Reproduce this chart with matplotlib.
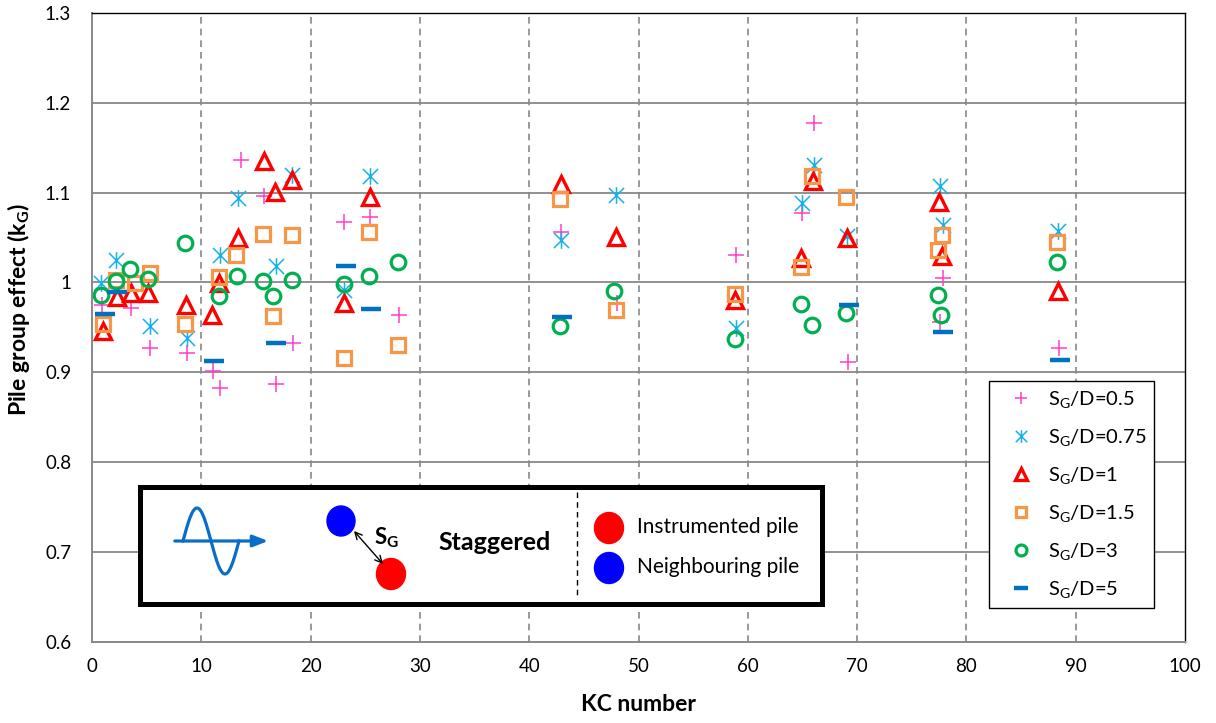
import numpy as np
import matplotlib
matplotlib.use("Agg")
import matplotlib.pyplot as plt
from matplotlib.path import Path
from matplotlib.patches import Ellipse

plt.rcParams['font.family'] = ['Lato', 'DejaVu Sans']
plt.rcParams['mathtext.fontset'] = 'custom'
plt.rcParams['mathtext.rm'] = 'Lato'
plt.rcParams['mathtext.it'] = 'Lato:italic'
plt.rcParams['mathtext.bf'] = 'Lato:bold'

# ---------------- data ----------------
kc_05 = [0.9, 3.6, 5.3, 8.7, 11.1, 11.7, 13.6, 15.7, 16.8, 18.4, 23.1, 25.4, 28.1,
         42.9, 48.0, 58.9, 65.0, 66.1, 69.2, 77.9, 77.6, 88.5]
kg_05 = [0.975, 0.971, 0.927, 0.921, 0.901, 0.882, 1.136, 1.096, 0.887, 0.933, 1.067, 1.073, 0.964,
         1.056, 0.977, 1.031, 1.077, 1.178, 0.911, 1.005, 0.956, 0.927]

kc_075 = [0.85, 2.2, 5.3, 8.7, 11.7, 13.4, 16.8, 18.3, 23.1, 25.4, 42.9, 47.9, 58.9,
          65.0, 66.1, 69.1, 77.6, 77.9, 88.4]
kg_075 = [0.999, 1.025, 0.951, 0.938, 1.030, 1.094, 1.018, 1.120, 0.992, 1.118, 1.047, 1.097, 0.949,
          1.088, 1.131, 1.052, 1.107, 1.064, 1.057]

kc_1 = [1.0, 2.3, 3.6, 5.1, 8.6, 10.95, 11.6, 13.4, 15.7, 16.7, 18.3, 23.1, 25.4,
        42.9, 47.9, 58.8, 64.9, 66.0, 69.1, 77.5, 77.8, 88.4]
kg_1 = [0.946, 0.984, 0.988, 0.988, 0.975, 0.964, 0.999, 1.049, 1.135, 1.101, 1.114, 0.977, 1.095,
        1.110, 1.051, 0.980, 1.027, 1.113, 1.049, 1.090, 1.029, 0.990]

kc_15 = [1.0, 2.2, 3.9, 5.3, 8.5, 11.6, 13.2, 15.6, 16.6, 18.3, 23.1, 25.3, 28.0,
         42.8, 47.9, 58.8, 64.9, 65.9, 69.0, 77.8, 77.4, 88.3]
kg_15 = [0.954, 1.003, 0.999, 1.010, 0.954, 1.006, 1.030, 1.054, 0.963, 1.053, 0.916, 1.056, 0.930,
         1.093, 0.969, 0.987, 1.017, 1.118, 1.095, 1.053, 1.036, 1.045]

kc_3 = [0.85, 2.2, 3.5, 5.1, 8.5, 11.6, 13.3, 15.6, 16.6, 18.3, 23.1, 25.3, 28.0,
        42.8, 47.8, 58.8, 64.9, 65.9, 69.0, 77.4, 77.7, 88.3]
kg_3 = [0.986, 1.002, 1.015, 1.004, 1.044, 0.985, 1.007, 1.002, 0.985, 1.003, 0.998, 1.007, 1.023,
        0.951, 0.990, 0.937, 0.976, 0.953, 0.966, 0.986, 0.964, 1.023]

kc_5 = [1.16, 2.3, 11.2, 16.8, 23.2, 25.5, 43.0, 69.3, 77.9, 88.6]
kg_5 = [0.965, 0.989, 0.913, 0.933, 1.018, 0.970, 0.962, 0.975, 0.945, 0.914]

labels = [r'S$_\mathregular{G}$/D=0.5', r'S$_\mathregular{G}$/D=0.75', r'S$_\mathregular{G}$/D=1',
          r'S$_\mathregular{G}$/D=1.5', r'S$_\mathregular{G}$/D=3', r'S$_\mathregular{G}$/D=5']
x_ticks = [0, 10, 20, 30, 40, 50, 60, 70, 80, 90, 100]
y_ticks = [0.6, 0.7, 0.8, 0.9, 1.0, 1.1, 1.2, 1.3]
y_ticklabels = ['0.6', '0.7', '0.8', '0.9', '1', '1.1', '1.2', '1.3']

# ---------------- figure ----------------
W, H = 1216, 723
fig = plt.figure(figsize=(W / 100, H / 100), dpi=100)
ax = fig.add_axes([92 / W, 1 - 641.7 / H, (1185 - 92) / W, (641.7 - 13) / H])

ax.set_xlim(0, 100)
ax.set_ylim(0.6, 1.3)
ax.set_xticks(x_ticks)
ax.set_yticks(y_ticks)
ax.set_yticklabels(y_ticklabels)
ax.tick_params(length=0, labelsize=13.5, colors='black')
ax.tick_params(axis='x', pad=12)
ax.tick_params(axis='y', pad=15)

grid_c = '#888888'
for yv in y_ticks[1:-1]:
    ax.axhline(yv, color=grid_c, lw=1.3, zorder=0)
for xv in x_ticks[1:-1]:
    ax.axvline(xv, color=grid_c, lw=1.2, ls=(0, (4, 3)), zorder=0)

for s in ['left', 'bottom']:
    ax.spines[s].set_color(grid_c)
    ax.spines[s].set_linewidth(1.4)
for s in ['top', 'right']:
    ax.spines[s].set_color('black')
    ax.spines[s].set_linewidth(1.0)

star = Path([(0, -1.1), (0, 1.1), (-1, -1), (1, 1), (-1, 1), (1, -1)],
            [Path.MOVETO, Path.LINETO, Path.MOVETO, Path.LINETO, Path.MOVETO, Path.LINETO])

h = []
h += ax.plot(kc_05, kg_05, ls='none', marker='+', ms=12, mew=1.1, color='#FF3FC8', label=labels[0])
h += ax.plot(kc_075, kg_075, ls='none', marker=star, ms=12, mew=1.1, mfc='none',
             mec='#17B0EE', label=labels[1])
h += ax.plot(kc_1, kg_1, ls='none', marker='^', ms=11, mew=2.4, mfc='none', mec='#FF0000',
             label=labels[2])
h += ax.plot(kc_15, kg_15, ls='none', marker='s', ms=10.5, mew=2.3, mfc='none', mec='#F79646',
             label=labels[3])
h += ax.plot(kc_3, kg_3, ls='none', marker='o', ms=10.5, mew=2.3, mfc='none', mec='#00B050',
             label=labels[4])
h += ax.plot(kc_5, kg_5, ls='none', marker='_', ms=14, mew=3.2, color='#0070C0', label=labels[5])

ax.set_xlabel('KC number', fontsize=16.5, fontweight='bold')
ax.set_ylabel(r'Pile group effect (k$_\mathbf{G}$)', fontsize=16.5, fontweight='bold')
ax.xaxis.set_label_coords(0.5, -0.083)
ax.yaxis.set_label_coords(-0.055, 0.529)

leg = ax.legend(handles=h, loc='upper left', bbox_to_anchor=((988.5 - 92) / 1093, (641.7 - 380.7) / 628.7),
                borderaxespad=0, fontsize=14.5, frameon=True, fancybox=False, framealpha=1,
                edgecolor='black', borderpad=0.4, labelspacing=0.85, handlelength=2.4,
                handletextpad=0.15, markerscale=0.75)
leg.get_frame().set_linewidth(1.0)

# ---------------- inset schematic (pixel coordinates) ----------------
bx0, bx1, by0, by1 = 140, 822, 487, 604
ins = fig.add_axes([bx0 / W, 1 - by1 / H, (bx1 - bx0) / W, (by1 - by0) / H])
ins.set_xlim(bx0, bx1)
ins.set_ylim(by1, by0)
ins.set_xticks([])
ins.set_yticks([])
ins.set_facecolor('white')
for s in ins.spines.values():
    s.set_linewidth(3.6)
    s.set_color('black')

wave_c = '#0A6EC8'
ins.annotate('', xy=(271, 541), xytext=(172, 541),
             arrowprops=dict(arrowstyle='-|>,head_length=0.9,head_width=0.35', color=wave_c, lw=2.3))
xs = np.linspace(183, 239, 200)
ins.plot(xs, 541 - 33 * np.sin(2 * np.pi * (xs - 183) / 56), color=wave_c, lw=2.3)

ins.add_patch(Ellipse((341, 521), 28, 30, color='#0000FF'))
ins.add_patch(Ellipse((391, 574), 29, 31, color='#FF0000'))
ins.annotate('', xy=(354, 531), xytext=(383, 564),
             arrowprops=dict(arrowstyle='<->,head_length=0.5,head_width=0.25', color='black', lw=1.0,
                             shrinkA=0, shrinkB=0))
ins.text(374, 538, r'S$_\mathbf{G}$', fontsize=16, fontweight='bold', va='center', ha='left')
ins.text(495, 542, 'Staggered', fontsize=18, fontweight='bold', va='center', ha='center')
ins.plot([577, 577], [492, 598], color='black', lw=1.0, ls=(0, (4, 3)))
ins.add_patch(Ellipse((609, 528), 29, 31, color='#FF0000'))
ins.add_patch(Ellipse((609, 568), 29, 31, color='#0000FF'))
ins.text(637, 527, 'Instrumented pile', fontsize=15, va='center', ha='left')
ins.text(637, 567, 'Neighbouring pile', fontsize=15, va='center', ha='left')

fig.savefig('out.png', dpi=100)
